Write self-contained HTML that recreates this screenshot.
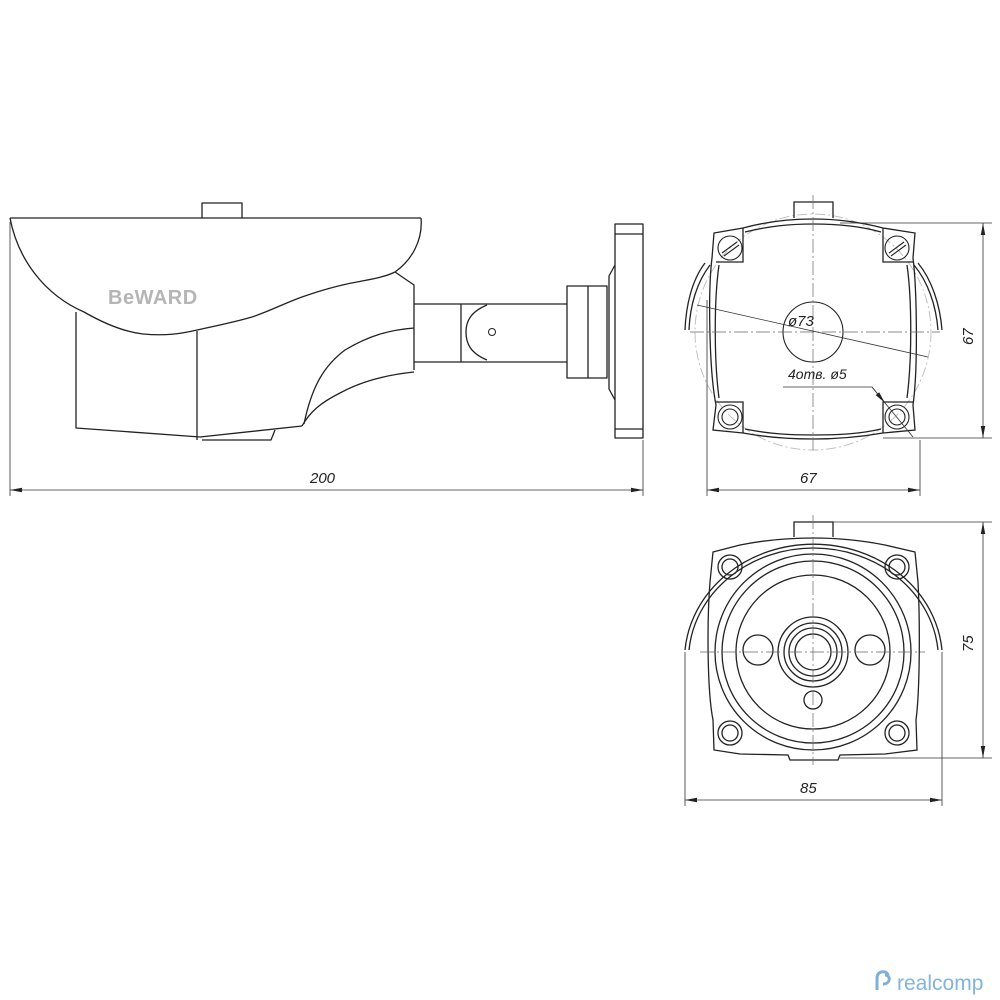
<!DOCTYPE html>
<html><head><meta charset="utf-8"><style>
html,body{margin:0;padding:0;background:#fff;width:1000px;height:1000px;overflow:hidden}
svg{display:block}
text{font-family:"Liberation Sans",sans-serif;font-style:italic;fill:#222}
</style></head><body>
<svg width="1000" height="1000" viewBox="0 0 1000 1000" xmlns="http://www.w3.org/2000/svg">
<defs>
<marker id="ar" viewBox="0 0 12 6" refX="12" refY="3" markerWidth="12" markerHeight="6" orient="auto-start-reverse" markerUnits="userSpaceOnUse"><path d="M0,0.8 L12,3 L0,5.2 z" fill="#222"/></marker>
</defs>
<g fill="none" stroke="#222" stroke-width="1.3" stroke-linejoin="round">
<path d="M202,218 V203 H242 V218"/>
<path d="M10,218 H421"/>
<path d="M421,218 C423,240 412,260 395,272"/>
<path d="M10,218 C18,260 45,295 84,312 C105,324 125,332 143,334 C165,336 180,334 197,330 C220,325 235,322 252,317 C270,311 285,303 302,297 C322,290 340,285 357,282 C372,279 385,277 395,272"/>
<path d="M395,272 L414,285 V370"/>
<path d="M414,328 C390,330 370,335 345,350 C325,365 312,385 304,424"/>
<path d="M414,372 C385,375 360,382 340,393 C320,403 310,412 302,426"/>
<path d="M76,312 V428 L200,437 L302,426"/>
<path d="M197,331 V440"/>
<path d="M202,440 H271 L275,430"/>
<path d="M414,304 H567 M414,362 H567"/>
<path d="M461,304 V362"/>
<path d="M487,305 C470,312 466,322 466,332 C466,343 470,353 487,360"/>
<circle cx="492" cy="332" r="3.5" stroke-width="1"/>
<rect x="567" y="286" width="40" height="92"/>
<path d="M588,286 V378"/>
<path d="M615,265 L609,276 V389 L615,400"/>
<rect x="615" y="224" width="28" height="214"/>
<path d="M615,234 H643 M615,429 H643"/>
</g>
<text x="108" y="304" font-size="20" font-weight="bold" style="font-style:normal;fill:#b5b5b5;letter-spacing:0.5px">BeWARD</text>
<g stroke="#333" stroke-width="0.8" fill="none">
<path d="M10,222 V496 M643,440 V496"/>
<path d="M10,490 H643" marker-start="url(#ar)" marker-end="url(#ar)"/>
</g>
<text x="310" y="483" font-size="15">200</text>

<g fill="none" stroke="#bbb" stroke-width="0.9" stroke-dasharray="10 3 2 3">
<circle cx="813" cy="332" r="118"/>
</g>
<g fill="none" stroke="#222" stroke-width="1.3">
<path d="M794,218 V202 H833 V218"/>
<path d="M714,233 L743,228 C765,222 790,219 813,219 C838,219 860,222 883,228 L915,233 L913,258 C917,290 918,370 913,405 L915,430 L883,433 C860,437 838,439 813,439 C790,439 765,437 743,433 L713,430 L716,405 C709,370 708,290 712,258 Z"/>
<path d="M745,232 C770,226 790,224 813,224 C838,224 860,226 881,232"/>
<path d="M745,429 C770,434 790,435 813,435 C838,435 860,434 881,429"/>
<path d="M743,228 V262 L716,262 M883,228 V262 L913,262 M743,433 V402 L716,402 M883,433 V402 L913,402"/>
<path d="M719,265 C714,300 714,360 719,398 M907,265 C912,300 912,360 907,398"/>
<path d="M705,263 C692,280 686,305 685,330 M710,265 C697,282 690,305 689,330"/>
<path d="M918,263 C932,280 940,305 942,330 M914,265 C928,282 936,305 938,330"/>
</g>
<g fill="none" stroke="#222" stroke-width="1.1">
<circle cx="730" cy="248" r="12"/><circle cx="897" cy="248" r="12"/>
<circle cx="730" cy="417" r="12"/><circle cx="897" cy="417" r="12"/>
<circle cx="730" cy="417" r="8"/><circle cx="897" cy="417" r="8"/>
<path d="M722,253 L737,242 M724,256 L739,245 M889,253 L904,242 M891,256 L906,245"/>
<circle cx="813" cy="332" r="30"/>
</g>
<g stroke="#666" stroke-width="0.7" fill="none" stroke-dasharray="14 3 2 3">
<path d="M813,195 V450 M690,332 H940"/>
</g>
<g stroke="#333" stroke-width="0.8" fill="none">
<path d="M697,305 L928,357"/>
<path d="M783,387 H872 L913,437"/>
<path d="M872,387 L885,403" marker-end="url(#ar)"/>
<path d="M840,223 H992 M883,438 H992"/>
<path d="M983,223 V438" marker-start="url(#ar)" marker-end="url(#ar)"/>
<path d="M707,300 V496 M920,440 V496"/>
<path d="M707,490 H920" marker-start="url(#ar)" marker-end="url(#ar)"/>
</g>
<text x="788" y="326" font-size="15">ø73</text>
<text x="788" y="379" font-size="14">4отв. ø5</text>
<text x="800" y="483" font-size="15">67</text>
<text font-size="15" transform="translate(973,345) rotate(-90)">67</text>

<g fill="none" stroke="#222" stroke-width="1.3">
<path d="M794,537 V522 H833 V537"/>
<path d="M713,552 L740,545 C765,540 790,538 813,538 C838,538 860,540 885,545 L915,552 L918,582 C920,620 920,690 916,720 L917,750 L885,754 L840,755 L838,760 H790 L788,755 L740,754 L714,750 L713,720 C707,690 707,620 710,582 Z"/>
<circle cx="813" cy="652" r="98"/>
<circle cx="813" cy="652" r="91"/>
<circle cx="813" cy="652" r="77"/>
<circle cx="813" cy="652" r="35"/>
<circle cx="813" cy="652" r="29"/>
<circle cx="813" cy="652" r="24"/>
<circle cx="813" cy="652" r="18"/>
<circle cx="758" cy="650" r="15"/>
<circle cx="870" cy="650" r="15"/>
<circle cx="813" cy="700" r="9"/>
<circle cx="730" cy="567" r="12"/><circle cx="897" cy="567" r="12"/>
<circle cx="730" cy="733" r="12"/><circle cx="897" cy="733" r="12"/>
<circle cx="730" cy="567" r="8"/><circle cx="897" cy="567" r="8"/>
<circle cx="730" cy="733" r="8"/><circle cx="897" cy="733" r="8"/>
<path d="M685,650 A129,116 0 0 1 942,650"/>
<path d="M689,650 A125,112 0 0 1 938,650"/>
</g>
<g stroke="#666" stroke-width="0.7" fill="none" stroke-dasharray="14 3 2 3">
<path d="M813,515 V765 M700,652 H925"/>
</g>
<g stroke="#333" stroke-width="0.8" fill="none">
<path d="M833,522 H992 M840,758 H992"/>
<path d="M983,522 V758" marker-start="url(#ar)" marker-end="url(#ar)"/>
<path d="M685,652 V806 M942,652 V806"/>
<path d="M685,800 H942" marker-start="url(#ar)" marker-end="url(#ar)"/>
</g>
<text x="800" y="793" font-size="15">85</text>
<text font-size="15" transform="translate(973,652) rotate(-90)">75</text>

<g fill="none" stroke="#7fb0d8" stroke-width="3">
<path d="M877,990 V978 C877,970 888,970 888,976 M883,984 C891,984 891,975 885,975"/>
</g>
<text x="897" y="990" font-size="21" style="font-style:normal;fill:#82b4dc">realcomp</text>
</svg>
</body></html>
